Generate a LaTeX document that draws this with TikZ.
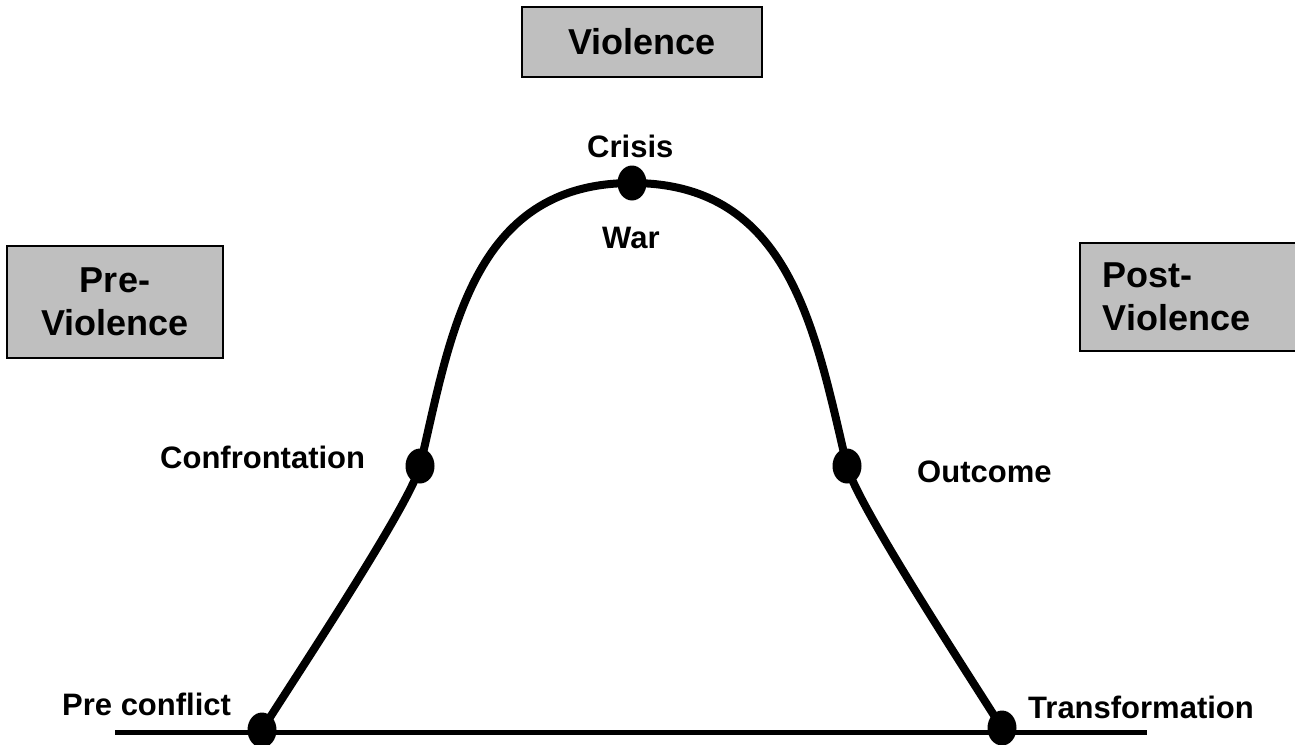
\documentclass[tikz,border=0pt]{standalone}
\usepackage{fontspec}
\setmainfont{Liberation Sans}
\usetikzlibrary{shapes.geometric}
\tikzset{
    graybox/.style={draw=black, line width=1.5pt, fill=black!25, inner sep=0pt},
    bigtext/.style={font=\fontsize{36}{43}\selectfont\bfseries},
    stagetext/.style={font=\fontsize{31}{36}\selectfont\bfseries, inner sep=0pt},
    stagedot/.style={ellipse, fill=black, inner sep=0pt, minimum width=29pt, minimum height=35pt},
}

\begin{document}
\begin{tikzpicture}[x=1pt, y=-1pt]
\useasboundingbox (0,0) rectangle (1295,744);
\clip (0,0) rectangle (1295,744);

\node[graybox, bigtext, minimum width=240pt, minimum height=70pt] (violence) at (642,42) {Violence};
\node[graybox, bigtext, align=center, minimum width=216pt, minimum height=112pt] (previolence) at (115,302) {Pre-\\Violence};
\node[graybox, bigtext, align=left, anchor=north west, text width=194pt, inner xsep=23pt, minimum height=108pt] (postviolence) at (1079,242) {Post-\\Violence};

\coordinate (pre) at (262,730);
\coordinate (confront) at (420,466);
\coordinate (crisis) at (632,183);
\coordinate (outcome) at (847,466);
\coordinate (transform) at (1002,728);
\coordinate (axisleft) at (115,732);
\coordinate (axisright) at (1147,732);

\draw[line width=5pt] (axisleft) -- (axisright);
\draw[line width=8pt, line join=round]
    (pre) .. controls (292,682) and (410,505) .. (confront)
    .. controls (450,340) and (470,183) .. (crisis)
    .. controls (790,183) and (815,330) .. (outcome)
    .. controls (857,505) and (972,680) .. (transform);

\node[stagedot] (predot) at (pre) {};
\node[stagedot] (confrontdot) at (confront) {};
\node[stagedot] (crisisdot) at (crisis) {};
\node[stagedot] (outcomedot) at (outcome) {};
\node[stagedot] (transformdot) at (transform) {};

\node[stagetext, anchor=base west] (prelabel) at (62,715) {Pre conflict};
\node[stagetext, anchor=base west] (confrontlabel) at (160,468) {Confrontation};
\node[stagetext, anchor=base west] (crisislabel) at (587,157) {Crisis};
\node[stagetext, anchor=base west] (warlabel) at (602,248) {War};
\node[stagetext, anchor=base west] (outcomelabel) at (917,482) {Outcome};
\node[stagetext, anchor=base west] (transformlabel) at (1028,718) {Transformation};
\end{tikzpicture}
\end{document}
